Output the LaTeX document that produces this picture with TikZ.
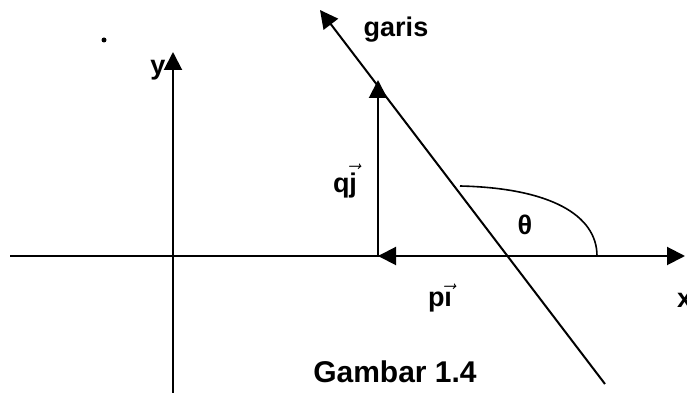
\documentclass[tikz,border=0pt]{standalone}
\usepackage{amsmath}
\usepackage{fontspec}
\setmainfont{Liberation Sans}
\usetikzlibrary{arrows.meta}

\begin{document}
\begin{tikzpicture}[
    x=0.5pt, y=-0.5pt,
    line width=1pt,
    >={Triangle[length=9pt, width=9pt]},
    lbl/.style={font=\fontsize{13.5}{15}\selectfont\bfseries, inner sep=1pt}
  ]
  \useasboundingbox (0,0) rectangle (687,395);
  % axes
  \coordinate (xs) at (10,256);
  \coordinate (xe) at (685,256);
  \coordinate (ys) at (173,393);
  \coordinate (ye) at (173,52);
  \draw[->] (xs) -- (xe);
  \draw[->] (ys) -- (ye);
  % the line and the two vectors
  \coordinate (P) at (378,256);
  \coordinate (Q) at (378,80);
  \coordinate (S) at (507,256);
  \coordinate (g0) at (605,384);
  \coordinate (g1) at (320,10);
  \draw[->] (g0) -- (g1);
  \draw[->] (P) -- (Q);
  \draw[->] (S) -- (P);
  % angle
  \coordinate (a0) at (460,186);
  \coordinate (a1) at (597,256);
  \draw[line width=0.8pt] (a0) .. controls (550,188) and (597,215) .. (a1);
  \fill (104,40) circle (2.5);
  % labels
  \node[lbl] (ylab) at (158,70) {y};
  \node[lbl] (garis) at (396,30) {garis};
  \node[lbl] (qj) at (345,181) {q$\vec{\text{j}}$};
  \node[lbl] (theta) at (525,225) {θ};
  \node[lbl] (pi) at (440,298) {p$\vec{\text{\i}}$};
  \node[lbl, anchor=west] (xlab) at (674,300) {x};
  \node[lbl, font=\fontsize{15}{17}\selectfont\bfseries] (cap) at (395,372) {Gambar 1.4};
\end{tikzpicture}
\end{document}
